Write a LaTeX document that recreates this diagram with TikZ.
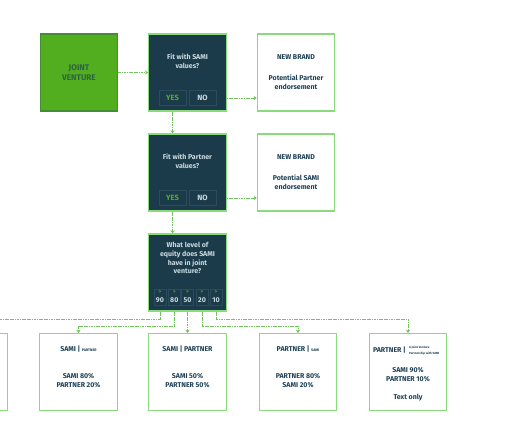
\documentclass[tikz,border=0pt]{standalone}
\usepackage{fontspec}
\setmainfont{Fira Sans}
\usetikzlibrary{arrows.meta}
\definecolor{deepteal}{HTML}{1B3B4B}
\definecolor{leafgreen}{HTML}{52AE1F}
\definecolor{edgegreen}{HTML}{8ADB7C}
\definecolor{linkgreen}{HTML}{6FC658}
\definecolor{chipline}{HTML}{2A4C5B}
\definecolor{inkblue}{HTML}{1F4258}
\definecolor{paletext}{HTML}{C9D9DE}
\tikzset{
	box/.style={minimum width=77.5pt,minimum height=77pt,inner sep=0pt,line width=1.3pt,align=center},
	darkbox/.style={box,draw=edgegreen,fill=deepteal},
	whitebox/.style={box,draw=edgegreen,fill=white},
	lbl/.style={font=\bfseries\fontsize{7}{8.8}\selectfont,align=center,text=inkblue},
	dlbl/.style={lbl,text=paletext},
	chip/.style={draw=chipline,line width=.6pt,inner sep=0pt,font=\bfseries\fontsize{7.6}{8}\selectfont},
	plain/.style={draw=linkgreen,line width=.8pt,dash pattern=on 1.2pt off .5pt},
	link/.style={plain,-{Stealth[length=3pt,width=4.4pt,sep=0pt]}}
}
\begin{document}
\begin{tikzpicture}[x=1pt,y=-1pt]
	\useasboundingbox (0,0) rectangle (516,439);
	\path
	(0,319) coordinate (busa)
	(0,326) coordinate (busb)
	;
	% top rows
	\node[box,draw=leafgreen!70!inkblue,fill=leafgreen] (venture) at (79,72.5) {};
	\node[darkbox] (fitsami) at (187.5,72.5) {};
	\node[whitebox] (brandone) at (296,72.5) {};
	\node[darkbox] (fitpartner) at (187.5,172.5) {};
	\node[whitebox] (brandtwo) at (296,172.5) {};
	\node[darkbox] (equity) at (187.5,272.5) {};
	\node[lbl,font=\bfseries\fontsize{8.2}{10}\selectfont,text=inkblue!70!leafgreen] (venturetxt) at (79,72.5) {JOINT\\VENTURE};
	\node[dlbl] (fitsamitxt) at (187.5,61) {Fit with SAMI\\values?};
	\node[dlbl] (fitpartnertxt) at (187.5,161.5) {Fit with Partner\\values?};
	\node[lbl] (brandonea) at (296,57) {NEW BRAND};
	\node[lbl] (brandoneb) at (296,82) {Potential Partner\\endorsement};
	\node[lbl] (brandtwoa) at (296,157) {NEW BRAND};
	\node[lbl] (brandtwob) at (296,182.5) {Potential SAMI\\endorsement};
	\node[dlbl] (equitytxt) at (187.5,258) {What level of\\equity does SAMI\\have in joint\\venture?};
	% yes and no
	\foreach \n/\y in {a/98,b/198}{
		\node[chip,minimum width=27pt,minimum height=15pt,text=leafgreen] (yes\n) at (172.5,\y) {YES};
		\node[chip,minimum width=27pt,minimum height=15pt,text=paletext] (no\n) at (202.5,\y) {NO};
	}
	% levels
	\foreach \v/\x in {90/160,80/174.3,50/187.5,20/202,10/216}{
		\node[chip,minimum width=12pt,minimum height=16pt] (lvl\v) at (\x,297) {};
		\node[font=\bfseries\fontsize{5}{5}\selectfont,text=leafgreen,inner sep=0pt] (arr\v) at (\x,292.5) {>};
		\node[font=\bfseries\fontsize{7}{8}\selectfont,text=paletext,inner sep=0pt] (num\v) at (\x,300) {\v};
	}
	% bottom row
	\node[whitebox] (cutbox) at (-31.5,372) {};
	\node[whitebox] (samieighty) at (78.5,372) {};
	\node[whitebox] (samififty) at (187.5,372) {};
	\node[whitebox] (partnereighty) at (298,372) {};
	\node[whitebox] (partnerninety) at (408,372) {};
	\node[lbl] (sea) at (78.5,349) {SAMI | {\fontsize{3.6}{4}\selectfont PARTNER}};
	\node[lbl] (seb) at (78.5,381) {SAMI 80\%\\PARTNER 20\%};
	\node[lbl] (sfa) at (187.5,349) {SAMI | PARTNER};
	\node[lbl] (sfb) at (187.5,381) {SAMI 50\%\\PARTNER 50\%};
	\node[lbl] (pea) at (298,349) {PARTNER | {\fontsize{3.6}{4}\selectfont SAMI}};
	\node[lbl] (peb) at (298,381) {PARTNER 80\%\\SAMI 20\%};
	\node[lbl,anchor=east,inner sep=0pt] (pna) at (406,350.5) {PARTNER |};
	\node[lbl,anchor=west,font=\bfseries\fontsize{3}{5.4}\selectfont,inner sep=0pt,align=left] (pnb) at (409,350.5) {A Joint Venture\\Partnership with SAMI};
	\node[lbl] (pnc) at (408,374.5) {SAMI 90\%\\PARTNER 10\%};
	\node[lbl] (pnd) at (408,397.5) {Text only};
	% links
	\draw[link] (venture)--(fitsami);
	\draw[link] (fitsami.east |- noa)--(brandone.west |- noa);
	\draw[link] (fitpartner.east |- nob)--(brandtwo.west |- nob);
	\draw[link] (yesa |- fitsami.south)--(yesa |- fitpartner.north);
	\draw[link] (yesb |- fitpartner.south)--(yesb |- equity.north);
	\draw[plain] (lvl90 |- equity.south)--(lvl90 |- busa)--(busa);
	\draw[link] (lvl80 |- equity.south)--(lvl80 |- busb)-|(samieighty.north);
	\draw[link] (lvl50 |- equity.south)--(samififty.north);
	\draw[link] (lvl20 |- equity.south)--(lvl20 |- busb)-|(partnereighty.north);
	\draw[link] (lvl10 |- equity.south)--(lvl10 |- busa)-|(partnerninety.north);
\end{tikzpicture}
\end{document}
